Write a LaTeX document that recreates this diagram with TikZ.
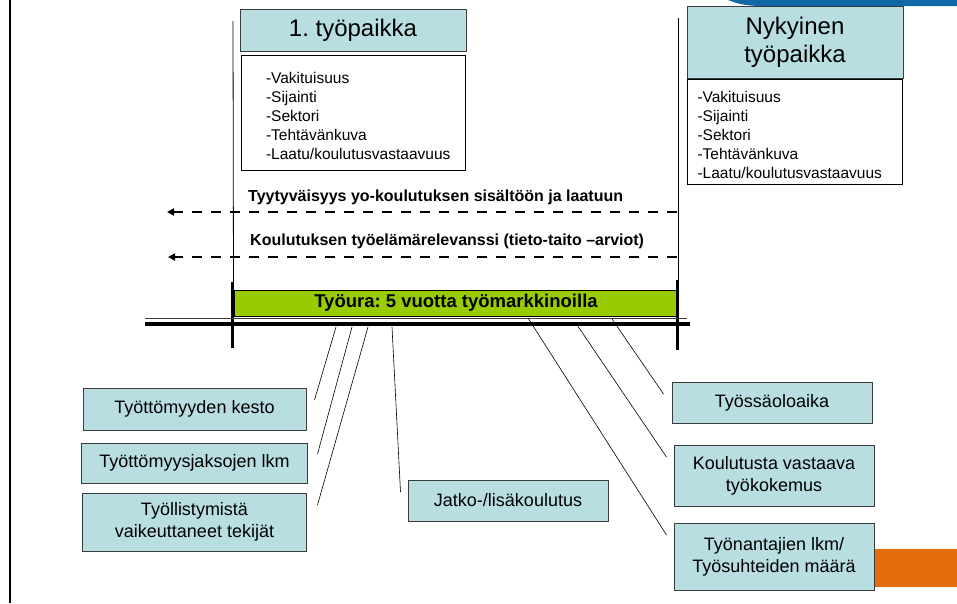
\documentclass[tikz,border=0pt]{standalone}
\usepackage{fontspec}
\setmainfont{Liberation Sans}
\usepackage{tikz}
\usetikzlibrary{arrows.meta,positioning}
\definecolor{lcbox}{RGB}{185,222,226}
\definecolor{lcbar}{RGB}{153,204,0}
\definecolor{lcedge}{RGB}{60,60,60}
\definecolor{lcorange}{RGB}{227,108,10}
\definecolor{lcblue}{RGB}{16,104,166}
\hyphenpenalty=10000
\exhyphenpenalty=10000
\frenchspacing

\begin{document}
\begin{tikzpicture}[%
    x=1pt, y=-1pt,                      % Work in slide pixels, top down
    >={Triangle[length=7pt,width=7pt]}, % Small solid arrow heads
    every node/.style={inner sep=0pt}
    ]
% -------------------------------------------------
% A few box styles
\tikzset{
  base/.style={draw=lcedge, line width=1pt, align=center},
  head/.style={base, fill=lcbox, font=\fontsize{24}{28}\selectfont},
  lst/.style={draw=black, line width=0.9pt, fill=white, align=left,
    font=\fontsize{15.5}{19}\selectfont,
    execute at begin node={\rule{0pt}{18pt}}},
  fact/.style={base, fill=lcbox, minimum width=200pt,
    font=\fontsize{18}{22}\selectfont},
  note/.style={anchor=west, font=\fontsize{16}{19}\selectfont\bfseries},
  % -------------------------------------------------
  % Line styles
  link/.style={draw, line width=0.6pt},
  feedback/.style={->, draw, line width=2.7pt, dash pattern=on 10pt off 9pt}
}
\useasboundingbox (0,0) rectangle (957,603);

% -------------------------------------------------
% Slide decoration
\fill [lcblue] (728,0) .. controls (740,5) and (750,6) .. (765,6)
  -- (957,6) -- (957,0) -- cycle;
\fill [lcorange] (874,549) rectangle (957,587);
\draw [line width=2pt] (10,0) -- (10,603);

% -------------------------------------------------
% Workplace boxes at both ends of the career
\node [head, minimum width=226pt, minimum height=42pt] (w1) at (353,30)
  {1. työpaikka};
\node [lst, below=3pt of w1, minimum width=224pt, minimum height=115pt,
  text width=174pt] (w1l)
  {-Vakituisuus\\-Sijainti\\-Sektori\\-Tehtävänkuva\\-Laatu/koulutusvastaavuus};

\node [head, minimum width=216pt, minimum height=72pt] (w2) at (795,42)
  {Nykyinen\\työpaikka};
\node [lst, below=0pt of w2, minimum width=215pt, minimum height=105pt,
  text width=195pt] (w2l)
  {-Vakituisuus\\-Sijainti\\-Sektori\\-Tehtävänkuva\\-Laatu/koulutusvastaavuus};

% -------------------------------------------------
% The career bar and the time line under it
\node [base, draw=black, fill=lcbar, minimum width=444pt, minimum height=26pt,
  font=\fontsize{18.5}{20}\selectfont\bfseries] (bar) at (456,303)
  {Työura: 5 vuotta työmarkkinoilla};

\draw [line width=0.8pt] (233,21) -- (bar.north west);
\draw [line width=0.8pt] (678,18) -- (678,290);
\draw [line width=3pt] (232,282) -- (232,348);
\draw [line width=3pt] (677,280) -- (677,350);
\draw [line width=0.8pt, lcedge] (145,318) -- (687,318);
\draw [line width=3.5pt] (145,324) -- (690,324);

% -------------------------------------------------
% Backward looking assessments
\coordinate (r1) at (677,212);
\coordinate (r2) at (677,257);
\coordinate (b1) at (167,212);
\coordinate (b2) at (168,257);
\draw [feedback] (r1) -- (b1);
\draw [feedback] (r2) -- (b2);
\node [note] (n1) at (248,197) {Tyytyväisyys yo-koulutuksen sisältöön ja laatuun};
\node [note] (n2) at (250,241) {Koulutuksen työelämärelevanssi (tieto-taito –arviot)};

% -------------------------------------------------
% Left nodes
\node [fact, minimum width=223pt, minimum height=42pt] (k1) at (194.5,409)
  {Työttömyyden kesto};
\node [fact, minimum width=226pt, minimum height=40pt, below=12pt of k1] (k2)
  {Työttömyysjaksojen lkm};
\node [fact, minimum width=224pt, minimum height=58pt, below=9pt of k2] (k3)
  {Työllistymistä\\vaikeuttaneet tekijät};
\node [fact, minimum height=41pt] (k4) at (508,500.5) {Jatko-/lisäkoulutus};

% right nodes
\node [fact, minimum height=41pt] (k5) at (772,402.5) {Työssäoloaika};
\node [fact, minimum height=61pt, below=21pt of k5, xshift=2pt] (k6)
  {Koulutusta vastaava\\työkokemus};
\node [fact, minimum height=67pt, below=16pt of k6] (k7)
  {Työnantajien lkm/\\Työsuhteiden määrä};

% -------------------------------------------------
% Lines from the time line to the boxes
\coordinate (t1) at (336,327);
\coordinate (t2) at (352,327);
\coordinate (t3) at (368,327);
\coordinate (t4) at (392,327);
\coordinate (t5) at (528,318);
\coordinate (t6) at (575,322);
\coordinate (t7) at (612,319);
\draw [link] (t1) -- ([xshift=8pt,yshift=9pt]k1.east);
\draw [link] (t2) -- ([xshift=9.5pt,yshift=9pt]k2.east);
\draw [link] (t3) -- ([xshift=10.5pt,yshift=17pt]k3.east);
\draw [link] (t4) -- ([xshift=-7pt,yshift=8.5pt]k4.west);
\draw [link] (t7) -- ([xshift=-8pt,yshift=8.5pt]k5.west);
\draw [link] (t6) -- ([xshift=-7pt,yshift=18.5pt]k6.west);
\draw [link] (t5) -- ([xshift=-7pt,yshift=21.5pt]k7.west);
\end{tikzpicture}
\end{document}
